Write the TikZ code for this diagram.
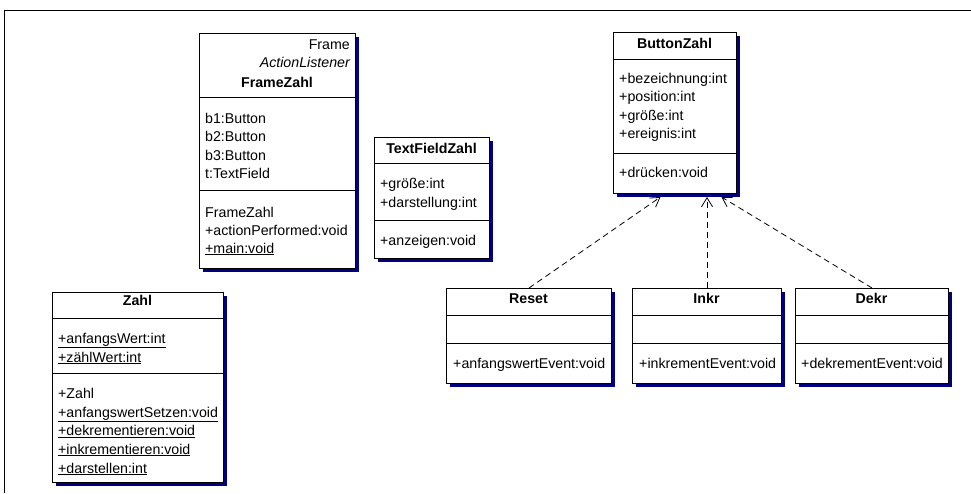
\documentclass[tikz,border=0pt]{standalone}
\usepackage{fontspec}
\setmainfont{Liberation Sans}
\usepackage{tikz}
\usetikzlibrary{arrows.meta, positioning, shadows}
\definecolor{umlnavy}{HTML}{000080}

\begin{document}
\begin{tikzpicture}[x=1pt, y=-1pt,
  cls/.style={draw=black, fill=white, line width=1pt, inner sep=0pt, anchor=north west,
    drop shadow={shadow xshift=3pt, shadow yshift=-3pt, fill=umlnavy, opacity=1}},
  sepline/.style={draw=black, line width=1pt},
  mem/.style={font=\fontsize{14.2}{17}\selectfont, anchor=base west, inner sep=0pt},
  ttl/.style={font=\fontsize{14.2}{17}\selectfont\bfseries, anchor=base, inner sep=0pt},
  dep/.style={draw=black, line width=0.8pt, dash pattern=on 6pt off 4pt,
    -{Straight Barb[length=9pt, width=11pt]}}]
\useasboundingbox (0,0) rectangle (971,493);
\fill[white] (0,0) rectangle (971,493);
\draw[line width=1.6pt] (971,10.5) -- (4.5,10.5) -- (4.5,493);

% FrameZahl
\node[cls, minimum width=156pt, minimum height=235pt] (framezahl) at (199,33) {};
\draw[sepline] (framezahl.west |- 0,97) -- (framezahl.east |- 0,97);
\draw[sepline] (framezahl.west |- 0,190) -- (framezahl.east |- 0,190);
\node[mem, anchor=base east] (fz-frame) at (350,49) {Frame};
\node[mem, anchor=base east, font=\fontsize{14.2}{17}\selectfont\itshape] (fz-al) at (350,67) {ActionListener};
\node[ttl] (fz-name) at (277,87) {FrameZahl};
\node[mem] (fz-b1) at (205,123) {b1:Button};
\node[mem] (fz-b2) at (205,141.5) {b2:Button};
\node[mem] (fz-b3) at (205,160) {b3:Button};
\node[mem] (fz-t) at (205,178) {t:TextField};
\node[mem] (fz-ctor) at (205,217) {FrameZahl};
\node[mem] (fz-ap) at (205,235) {+actionPerformed:void};
\node[mem] (fz-main) at (205,253) {\underline{+main:void}};

% TextFieldZahl
\node[cls, minimum width=115pt, minimum height=121pt] (textfieldzahl) at (374,137) {};
\draw[sepline] (textfieldzahl.west |- 0,163) -- (textfieldzahl.east |- 0,163);
\draw[sepline] (textfieldzahl.west |- 0,220) -- (textfieldzahl.east |- 0,220);
\node[ttl] (tf-name) at (431.5,153) {TextFieldZahl};
\node[mem] (tf-groesse) at (380,188) {+größe:int};
\node[mem] (tf-darst) at (380,207) {+darstellung:int};
\node[mem] (tf-anz) at (380,245) {+anzeigen:void};

% ButtonZahl
\node[cls, minimum width=123pt, minimum height=161pt] (buttonzahl) at (613,32) {};
\draw[sepline] (buttonzahl.west |- 0,59) -- (buttonzahl.east |- 0,59);
\draw[sepline] (buttonzahl.west |- 0,153) -- (buttonzahl.east |- 0,153);
\node[ttl] (bz-name) at (674.5,48) {ButtonZahl};
\node[mem] (bz-bez) at (619,83) {+bezeichnung:int};
\node[mem] (bz-pos) at (619,101.5) {+position:int};
\node[mem] (bz-groesse) at (619,120) {+größe:int};
\node[mem] (bz-ereig) at (619,138.5) {+ereignis:int};
\node[mem] (bz-druck) at (619,177) {+drücken:void};

% Zahl
\node[cls, minimum width=171pt, minimum height=190pt] (zahl) at (52,292) {};
\draw[sepline] (zahl.west |- 0,318) -- (zahl.east |- 0,318);
\draw[sepline] (zahl.west |- 0,373) -- (zahl.east |- 0,373);
\node[ttl] (za-name) at (137.5,305) {Zahl};
\node[mem] (za-aw) at (58,343) {\underline{+anfangsWert:int}};
\node[mem] (za-zw) at (58,362) {\underline{+zählWert:int}};
\node[mem] (za-ctor) at (58,398) {+Zahl};
\node[mem] (za-aws) at (58,417) {\underline{+anfangswertSetzen:void}};
\node[mem] (za-dek) at (58,435.5) {\underline{+dekrementieren:void}};
\node[mem] (za-ink) at (58,454) {\underline{+inkrementieren:void}};
\node[mem] (za-dar) at (58,473) {\underline{+darstellen:int}};

% Reset, Inkr, Dekr
\node[cls, minimum width=165pt, minimum height=95pt] (reset) at (446,288) {};
\draw[sepline] (reset.west |- 0,315) -- (reset.east |- 0,315);
\draw[sepline] (reset.west |- 0,343) -- (reset.east |- 0,343);
\node[ttl] (re-name) at (528.5,303) {Reset};
\node[mem] (re-ev) at (453,368) {+anfangswertEvent:void};

\node[cls, minimum width=149pt, minimum height=95pt] (inkr) at (632,288) {};
\draw[sepline] (inkr.west |- 0,315) -- (inkr.east |- 0,315);
\draw[sepline] (inkr.west |- 0,343) -- (inkr.east |- 0,343);
\node[ttl] (in-name) at (706.5,303) {Inkr};
\node[mem] (in-ev) at (639,368) {+inkrementEvent:void};

\node[cls, minimum width=153pt, minimum height=95pt] (dekr) at (795,288) {};
\draw[sepline] (dekr.west |- 0,315) -- (dekr.east |- 0,315);
\draw[sepline] (dekr.west |- 0,343) -- (dekr.east |- 0,343);
\node[ttl] (de-name) at (871.5,303) {Dekr};
\node[mem] (de-ev) at (801,368) {+dekrementEvent:void};

% dependencies
\draw[dep] (reset.north) -- ([xshift=-14.5pt, yshift=-3pt]buttonzahl.south);
\draw[dep] (inkr.north) -- ([xshift=32pt, yshift=-3pt]buttonzahl.south);
\draw[dep] (dekr.north) -- ([xshift=46.5pt, yshift=-3pt]buttonzahl.south);
\end{tikzpicture}
\end{document}
